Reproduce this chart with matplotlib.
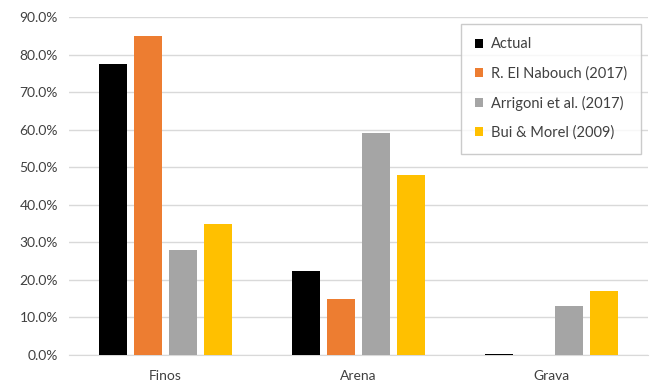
import matplotlib.pyplot as plt
import numpy as np
from matplotlib.ticker import PercentFormatter

plt.rcParams['font.family'] = ['Lato', 'DejaVu Sans']

categories = ['Finos', 'Arena', 'Grava']
series = ['Actual', 'R. El Nabouch (2017)', 'Arrigoni et al. (2017)', 'Bui & Morel (2009)']
actual = [77.4, 22.3, 0.3]
nabouch = [85.0, 15.0, 0.0]
arrigoni = [28.0, 59.0, 13.0]
bui_morel = [35.0, 48.0, 17.0]
colors = ['#000000', '#ed7d31', '#a5a5a5', '#ffc000']

fig = plt.figure(figsize=(6.52, 3.84), dpi=100)
ax = fig.add_axes([0.106, 0.0755, 0.888, 0.88])

x = np.arange(len(categories))
width = 0.143
step = 0.181
for i, (vals, name, c) in enumerate(zip([actual, nabouch, arrigoni, bui_morel], series, colors)):
    ax.bar(x + (i - 1.5) * step, vals, width, color=c, label=name, zorder=3)

ax.set_xlim(-0.5, 2.5)
ax.set_ylim(0, 90)
ax.set_yticks(np.arange(0, 91, 10))
ax.yaxis.set_major_formatter(PercentFormatter(decimals=1))
ax.set_xticks(x)
ax.set_xticklabels(categories)
ax.grid(axis='y', color='#d9d9d9', lw=1, zorder=0)
for s in ['top', 'right', 'left']:
    ax.spines[s].set_visible(False)
ax.spines['bottom'].set_color('#d9d9d9')
ax.tick_params(axis='both', length=0, labelsize=10, colors='#404040')
ax.tick_params(axis='x', pad=11)
ax.tick_params(axis='y', pad=8)

leg = ax.legend(loc='upper right', bbox_to_anchor=(0.987, 0.981), fontsize=10.5,
                frameon=True, fancybox=False, edgecolor='#bfbfbf',
                handlelength=0.6, handleheight=0.6, handletextpad=0.5,
                labelspacing=1.02, borderpad=0.95, borderaxespad=0)
leg._legend_box.align = 'left'
for t in leg.get_texts():
    t.set_color('#404040')
leg.get_frame().set_linewidth(1.0)

fig.savefig('out.png', dpi=100)
